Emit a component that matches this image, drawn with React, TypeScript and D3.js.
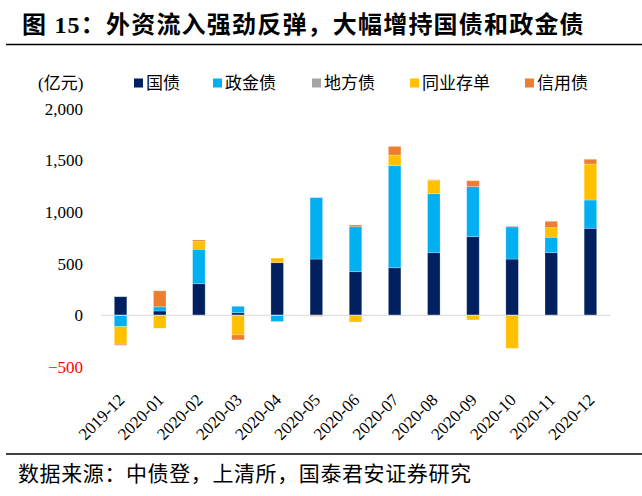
import React, { useRef, useEffect } from 'react';
import {
  select,
  scaleBand,
  scaleLinear,
  stack,
  stackOffsetDiverging,
  format,
} from 'd3';

const months = [
  '2019-12', '2020-01', '2020-02', '2020-03', '2020-04', '2020-05', '2020-06',
  '2020-07', '2020-08', '2020-09', '2020-10', '2020-11', '2020-12',
];
const govBonds = [180, 42, 306, 25, 510, 545, 423, 461, 607, 762, 545, 607, 843];
const policyBonds = [-110, 40, 334, 62, -60, 595, 435, 989, 571, 484, 313, 149, 274];
const localBonds = [0, 0, 0, 0, 0, 0, 0, 0, 0, 0, 0, 0, 0];
const ncds = [-170, -125, 75, -190, 45, 0, -65, 103, 130, -45, -320, 93, 349];
const creditBonds = [-10, 155, 15, -48, 0, -10, 17, 84, 5, 58, 5, 62, 46];

const seriesNames = ['国债', '政金债', '地方债', '同业存单', '信用债'];
const seriesColors = ['#002060', '#00B0F0', '#A5A5A5', '#FFC000', '#ED7D31'];
const yTicks = [-500, 0, 500, 1000, 1500, 2000];

const title = '图 15：外资流入强劲反弹，大幅增持国债和政金债';
const unitLabel = '(亿元)';
const source = '数据来源：中债登，上清所，国泰君安证券研究';

const dims = {
  width: 642,
  height: 496,
  plotLeft: 101,
  plotRight: 610,
  yTop: 108.9,
  yBottom: 366.9,
};

const fontStack = "'Liberation Serif', 'Noto Sans CJK SC', serif";

const App = () => {
  const svgRef = useRef(null);

  useEffect(() => {
    document.body.style.margin = '0';
    const svg = select(svgRef.current);
    svg.selectAll('*').remove();

    // title + rules
    svg.append('text')
      .attr('x', 22)
      .attr('y', 33)
      .attr('font-family', fontStack)
      .attr('font-size', 24)
      .attr('font-weight', 'bold')
      .attr('letter-spacing', 1.2)
      .attr('fill', '#000')
      .text(title);
    svg.append('line')
      .attr('x1', 6).attr('x2', 642)
      .attr('y1', 44.5).attr('y2', 44.5)
      .attr('stroke', '#000').attr('stroke-width', 1.3);
    svg.append('line')
      .attr('x1', 6).attr('x2', 642)
      .attr('y1', 454).attr('y2', 454)
      .attr('stroke', '#000').attr('stroke-width', 1.3);
    svg.append('text')
      .attr('x', 18)
      .attr('y', 481)
      .attr('font-family', fontStack)
      .attr('font-size', 21)
      .attr('letter-spacing', 0.6)
      .attr('fill', '#000')
      .text(source);

    const rows = months.map((m, i) => ({
      month: m,
      国债: govBonds[i],
      政金债: policyBonds[i],
      地方债: localBonds[i],
      同业存单: ncds[i],
      信用债: creditBonds[i],
    }));

    const xScale = scaleBand<string>()
      .domain(months)
      .range([dims.plotLeft, dims.plotRight])
      .paddingInner(0.68)
      .paddingOuter(0.34);
    const yScale = scaleLinear()
      .domain([-500, 2000])
      .range([dims.yBottom, dims.yTop]);

    const stacked = stack<any>()
      .keys(seriesNames)
      .offset(stackOffsetDiverging)(rows);

    // y labels
    const fmt = format(',');
    svg.append('g')
      .selectAll('text')
      .data(yTicks)
      .join('text')
      .attr('x', 83)
      .attr('y', (d) => yScale(d))
      .attr('dy', '0.35em')
      .attr('text-anchor', 'end')
      .attr('font-family', fontStack)
      .attr('font-size', 17)
      .attr('fill', (d) => (d < 0 ? '#FF0000' : '#000'))
      .text((d) => fmt(d));

    // bars
    svg.append('g')
      .selectAll('g')
      .data(stacked)
      .join('g')
      .attr('fill', (_, i) => seriesColors[i])
      .selectAll('rect')
      .data((s) => s.filter((d) => d[1] - d[0] !== 0))
      .join('rect')
      .attr('x', (d: any) => xScale(d.data.month) as number)
      .attr('width', xScale.bandwidth())
      .attr('y', (d) => yScale(Math.max(d[0], d[1])))
      .attr('height', (d) => Math.abs(yScale(d[0]) - yScale(d[1])))
      .attr('stroke', '#ffffff')
      .attr('stroke-opacity', 0.3)
      .attr('stroke-width', 0.8);

    // zero line
    svg.append('line')
      .attr('x1', dims.plotLeft).attr('x2', dims.plotRight)
      .attr('y1', yScale(0)).attr('y2', yScale(0))
      .attr('stroke', '#D9D9D9').attr('stroke-width', 1);

    // x labels
    svg.append('g')
      .selectAll('text')
      .data(months)
      .join('text')
      .attr('transform', (d) =>
        `translate(${(xScale(d) as number) + xScale.bandwidth() / 2 + 5},${401}) rotate(-45)`)
      .attr('text-anchor', 'end')
      .attr('font-family', fontStack)
      .attr('font-size', 17)
      .attr('fill', '#000')
      .text((d) => d);

    // legend
    svg.append('text')
      .attr('x', 38).attr('y', 89)
      .attr('font-family', fontStack)
      .attr('font-size', 17)
      .attr('fill', '#000')
      .text(unitLabel);
    const legendX = [134, 213, 312, 410, 525];
    const legend = svg.append('g')
      .selectAll('g')
      .data(seriesNames)
      .join('g')
      .attr('transform', (_, i) => `translate(${legendX[i]},0)`);
    legend.append('rect')
      .attr('x', 0).attr('y', 78.5)
      .attr('width', 9).attr('height', 9)
      .attr('fill', (_, i) => seriesColors[i]);
    legend.append('text')
      .attr('x', 12).attr('y', 89)
      .attr('font-family', fontStack)
      .attr('font-size', 17)
      .attr('fill', '#000')
      .text((d) => d);
  }, []);

  return (
    <svg
      ref={svgRef}
      width={dims.width}
      height={dims.height}
      style={{ position: 'absolute', left: 0, top: 0, background: '#fff' }}
    ></svg>
  );
};

export default App;
